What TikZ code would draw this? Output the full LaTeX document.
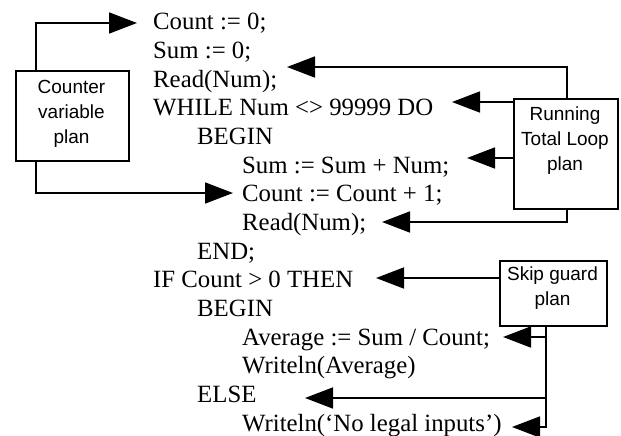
\documentclass[tikz,border=0pt]{standalone}
\usepackage{fontspec}
\setmainfont{Liberation Serif}
\newfontfamily\plansf{Liberation Sans}
\usetikzlibrary{arrows.meta}
\begin{document}
\begin{tikzpicture}[x=1pt,y=-1pt,
  code/.style={anchor=base west,inner sep=0pt,font=\fontsize{24.8}{28}\selectfont},
  planbox/.style={draw,line width=1.7pt,anchor=north west,inner sep=0pt},
  plantext/.style={anchor=north,inner sep=0pt,align=center,font=\plansf\fontsize{19}{25}\selectfont},
  arr/.style={line width=1.7pt,-{Triangle[length=28pt,width=21pt]}}]
\useasboundingbox (0,0) rectangle (621,436);
% code lines
\node[code] (l1)  at (153,30)  {Count := 0;};
\node[code] (l2)  at (153,58.6) {Sum := 0;};
\node[code] (l3)  at (153,87.3) {Read(Num);};
\node[code] (l4)  at (153,115.9) {WHILE Num <> 99999 DO};
\node[code] (l5)  at (197,144.6) {BEGIN};
\node[code] (l6)  at (242,173.2) {Sum := Sum + Num;};
\node[code] (l7)  at (242,201.8) {Count := Count + 1;};
\node[code] (l8)  at (242,230.5) {Read(Num);};
\node[code] (l9)  at (197,259.1) {END;};
\node[code] (l10) at (153,287.8) {IF Count > 0 THEN};
\node[code] (l11) at (197,316.4) {BEGIN};
\node[code] (l12) at (242,345) {Average := Sum / Count;};
\node[code] (l13) at (242,373.7) {Writeln(Average)};
\node[code] (l14) at (197,402.3) {ELSE};
\node[code] (l15) at (242,431) {Writeln(‘No legal inputs’)};
% plan boxes
\node[planbox,minimum width=113pt,minimum height=90pt] (cv) at (15,70) {};
\node[plantext] (cvt) at (71.5,80) {Counter\\variable\\plan};
\node[planbox,minimum width=104pt,minimum height=110pt] (rt) at (513,98) {};
\node[plantext] (rtt) at (565,107) {Running\\Total Loop\\plan};
\node[planbox,minimum width=107pt,minimum height=65pt] (sg) at (499,260) {};
\node[plantext] (sgt) at (552.5,267) {Skip guard\\plan};
% arrow tips
\coordinate (cvA) at (137,23);
\coordinate (cvB) at (233,193);
\coordinate (rtA) at (287,67);
\coordinate (rtB) at (452,102);
\coordinate (rtC) at (467,158);
\coordinate (rtD) at (382,222);
\coordinate (sgA) at (376,278);
\coordinate (sgB) at (503,337);
\coordinate (sgC) at (305,398);
\coordinate (sgD) at (512,427);
\coordinate (cvT) at ([xshift=21pt]cv.north west);
\coordinate (cvS) at ([xshift=21pt]cv.south west);
\coordinate (rtT) at ([xshift=54pt]rt.north west);
\coordinate (rtS) at ([xshift=54pt]rt.south west);
\coordinate (sgS) at ([xshift=47pt]sg.south west);
% connectors
\draw[arr] (cvT) |- (cvA);
\draw[arr] (cvS) |- (cvB);
\draw[arr] (rtT) |- (rtA);
\draw[arr] (rt.west |- rtB) -- (rtB);
\draw[arr] (rt.west |- rtC) -- (rtC);
\draw[arr] (rtS) |- (rtD);
\draw[arr] (sg.west |- sgA) -- (sgA);
\draw[arr] (sgS) |- (sgD);
\draw[arr] (sgS |- sgB) -- (sgB);
\draw[arr] (sgS |- sgC) -- (sgC);
\end{tikzpicture}
\end{document}
